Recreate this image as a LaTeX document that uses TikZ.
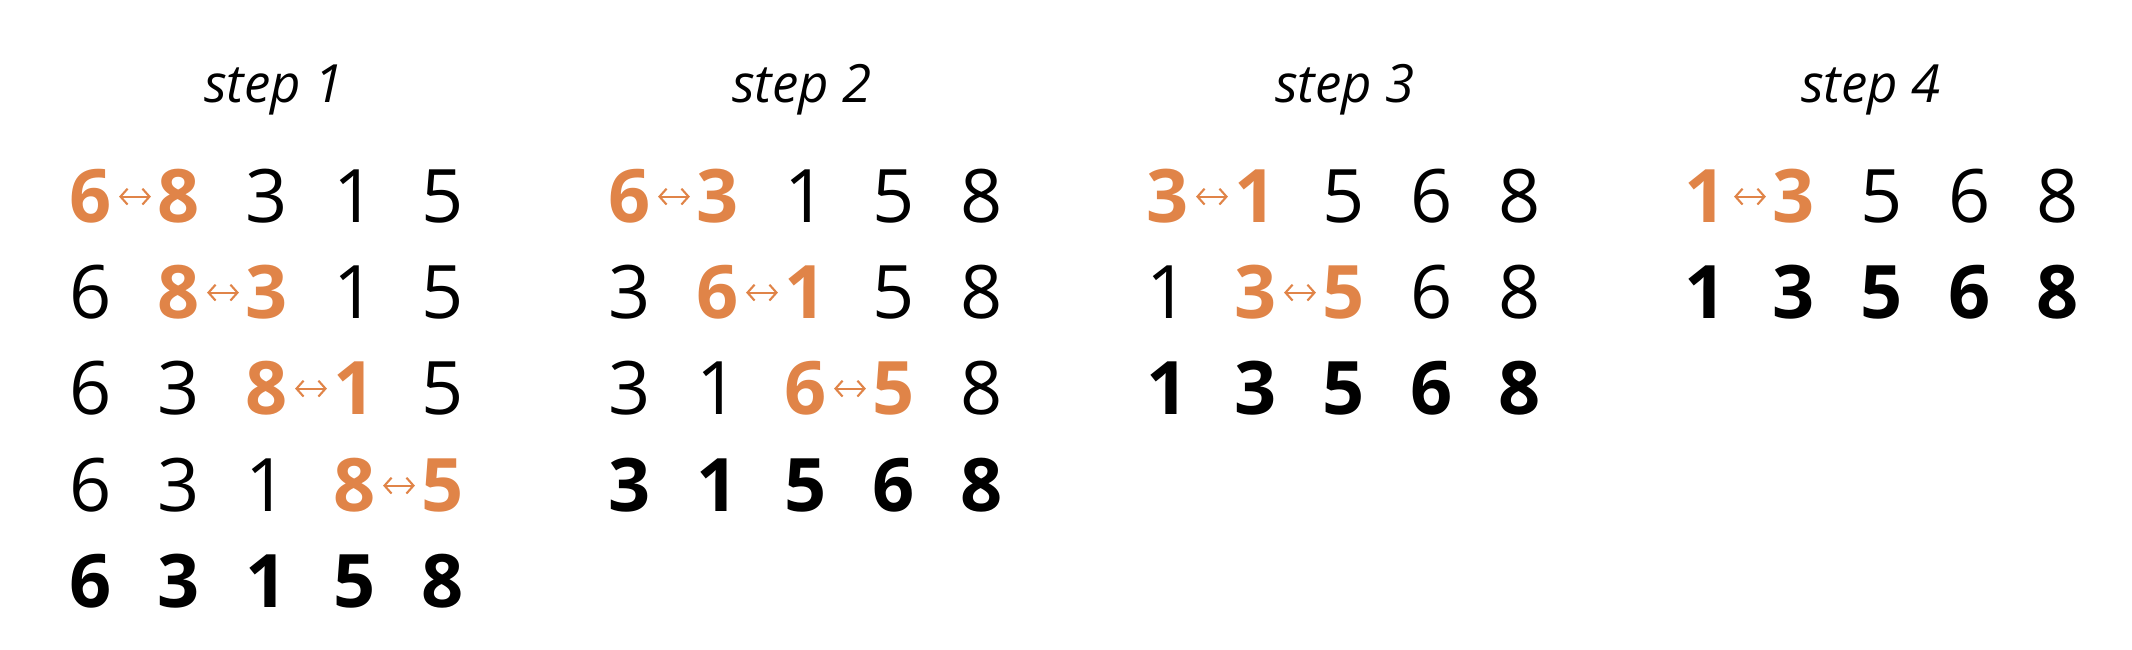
\documentclass[tikz,border=0pt]{standalone}
\usepackage{fontspec}
\setmainfont{Open Sans}
\usetikzlibrary{arrows.meta}
\definecolor{swaporange}{RGB}{224,132,72}

\begin{document}
\begin{tikzpicture}[
        plainnum/.style={anchor=base,inner sep=0pt,text height=15pt,text depth=0pt,
            font=\fontsize{21}{21}\selectfont},
        swapnum/.style={plainnum,font=\fontsize{21}{21}\selectfont\bfseries,text=swaporange},
        sortednum/.style={plainnum,font=\fontsize{21}{21}\selectfont\bfseries},
        steptitle/.style={anchor=base,inner sep=0pt,font=\fontsize{15}{15}\selectfont\itshape},
        swaparrow/.style={swaporange,line width=0.6pt,shorten <=1.8pt,shorten >=1.8pt,
            {Straight Barb[length=2pt,width=4.5pt]}-{Straight Barb[length=2pt,width=4.5pt]}}]
\useasboundingbox (0,0) rectangle (21.32,6.5);

% step 1
\node[steptitle] (t1) at (2.74,5.47) {step 1};
\foreach \d/\st [count=\k] in {6/swapnum,8/swapnum,3/plainnum,1/plainnum,5/plainnum}
    \node[\st] (s1r1-\k) at (0.03+0.88*\k,4.27) {\d};
\foreach \d/\st [count=\k] in {6/plainnum,8/swapnum,3/swapnum,1/plainnum,5/plainnum}
    \node[\st] (s1r2-\k) at (0.03+0.88*\k,3.31) {\d};
\foreach \d/\st [count=\k] in {6/plainnum,3/plainnum,8/swapnum,1/swapnum,5/plainnum}
    \node[\st] (s1r3-\k) at (0.03+0.88*\k,2.35) {\d};
\foreach \d/\st [count=\k] in {6/plainnum,3/plainnum,1/plainnum,8/swapnum,5/swapnum}
    \node[\st] (s1r4-\k) at (0.03+0.88*\k,1.38) {\d};
\foreach \d [count=\k] in {6,3,1,5,8}
    \node[sortednum] (s1r5-\k) at (0.03+0.88*\k,0.42) {\d};
\draw[swaparrow] (s1r1-1.east) -- (s1r1-2.west);
\draw[swaparrow] (s1r2-2.east) -- (s1r2-3.west);
\draw[swaparrow] (s1r3-3.east) -- (s1r3-4.west);
\draw[swaparrow] (s1r4-4.east) -- (s1r4-5.west);

% step 2
\node[steptitle] (t2) at (8.02,5.47) {step 2};
\foreach \d/\st [count=\k] in {6/swapnum,3/swapnum,1/plainnum,5/plainnum,8/plainnum}
    \node[\st] (s2r1-\k) at (5.42+0.88*\k,4.27) {\d};
\foreach \d/\st [count=\k] in {3/plainnum,6/swapnum,1/swapnum,5/plainnum,8/plainnum}
    \node[\st] (s2r2-\k) at (5.42+0.88*\k,3.31) {\d};
\foreach \d/\st [count=\k] in {3/plainnum,1/plainnum,6/swapnum,5/swapnum,8/plainnum}
    \node[\st] (s2r3-\k) at (5.42+0.88*\k,2.35) {\d};
\foreach \d [count=\k] in {3,1,5,6,8}
    \node[sortednum] (s2r4-\k) at (5.42+0.88*\k,1.38) {\d};
\draw[swaparrow] (s2r1-1.east) -- (s2r1-2.west);
\draw[swaparrow] (s2r2-2.east) -- (s2r2-3.west);
\draw[swaparrow] (s2r3-3.east) -- (s2r3-4.west);

% step 3
\node[steptitle] (t3) at (13.45,5.47) {step 3};
\foreach \d/\st [count=\k] in {3/swapnum,1/swapnum,5/plainnum,6/plainnum,8/plainnum}
    \node[\st] (s3r1-\k) at (10.80+0.88*\k,4.27) {\d};
\foreach \d/\st [count=\k] in {1/plainnum,3/swapnum,5/swapnum,6/plainnum,8/plainnum}
    \node[\st] (s3r2-\k) at (10.80+0.88*\k,3.31) {\d};
\foreach \d [count=\k] in {1,3,5,6,8}
    \node[sortednum] (s3r3-\k) at (10.80+0.88*\k,2.35) {\d};
\draw[swaparrow] (s3r1-1.east) -- (s3r1-2.west);
\draw[swaparrow] (s3r2-2.east) -- (s3r2-3.west);

% step 4
\node[steptitle] (t4) at (18.71,5.47) {step 4};
\foreach \d/\st [count=\k] in {1/swapnum,3/swapnum,5/plainnum,6/plainnum,8/plainnum}
    \node[\st] (s4r1-\k) at (16.18+0.88*\k,4.27) {\d};
\foreach \d [count=\k] in {1,3,5,6,8}
    \node[sortednum] (s4r2-\k) at (16.18+0.88*\k,3.31) {\d};
\draw[swaparrow] (s4r1-1.east) -- (s4r1-2.west);
\end{tikzpicture}
\end{document}
